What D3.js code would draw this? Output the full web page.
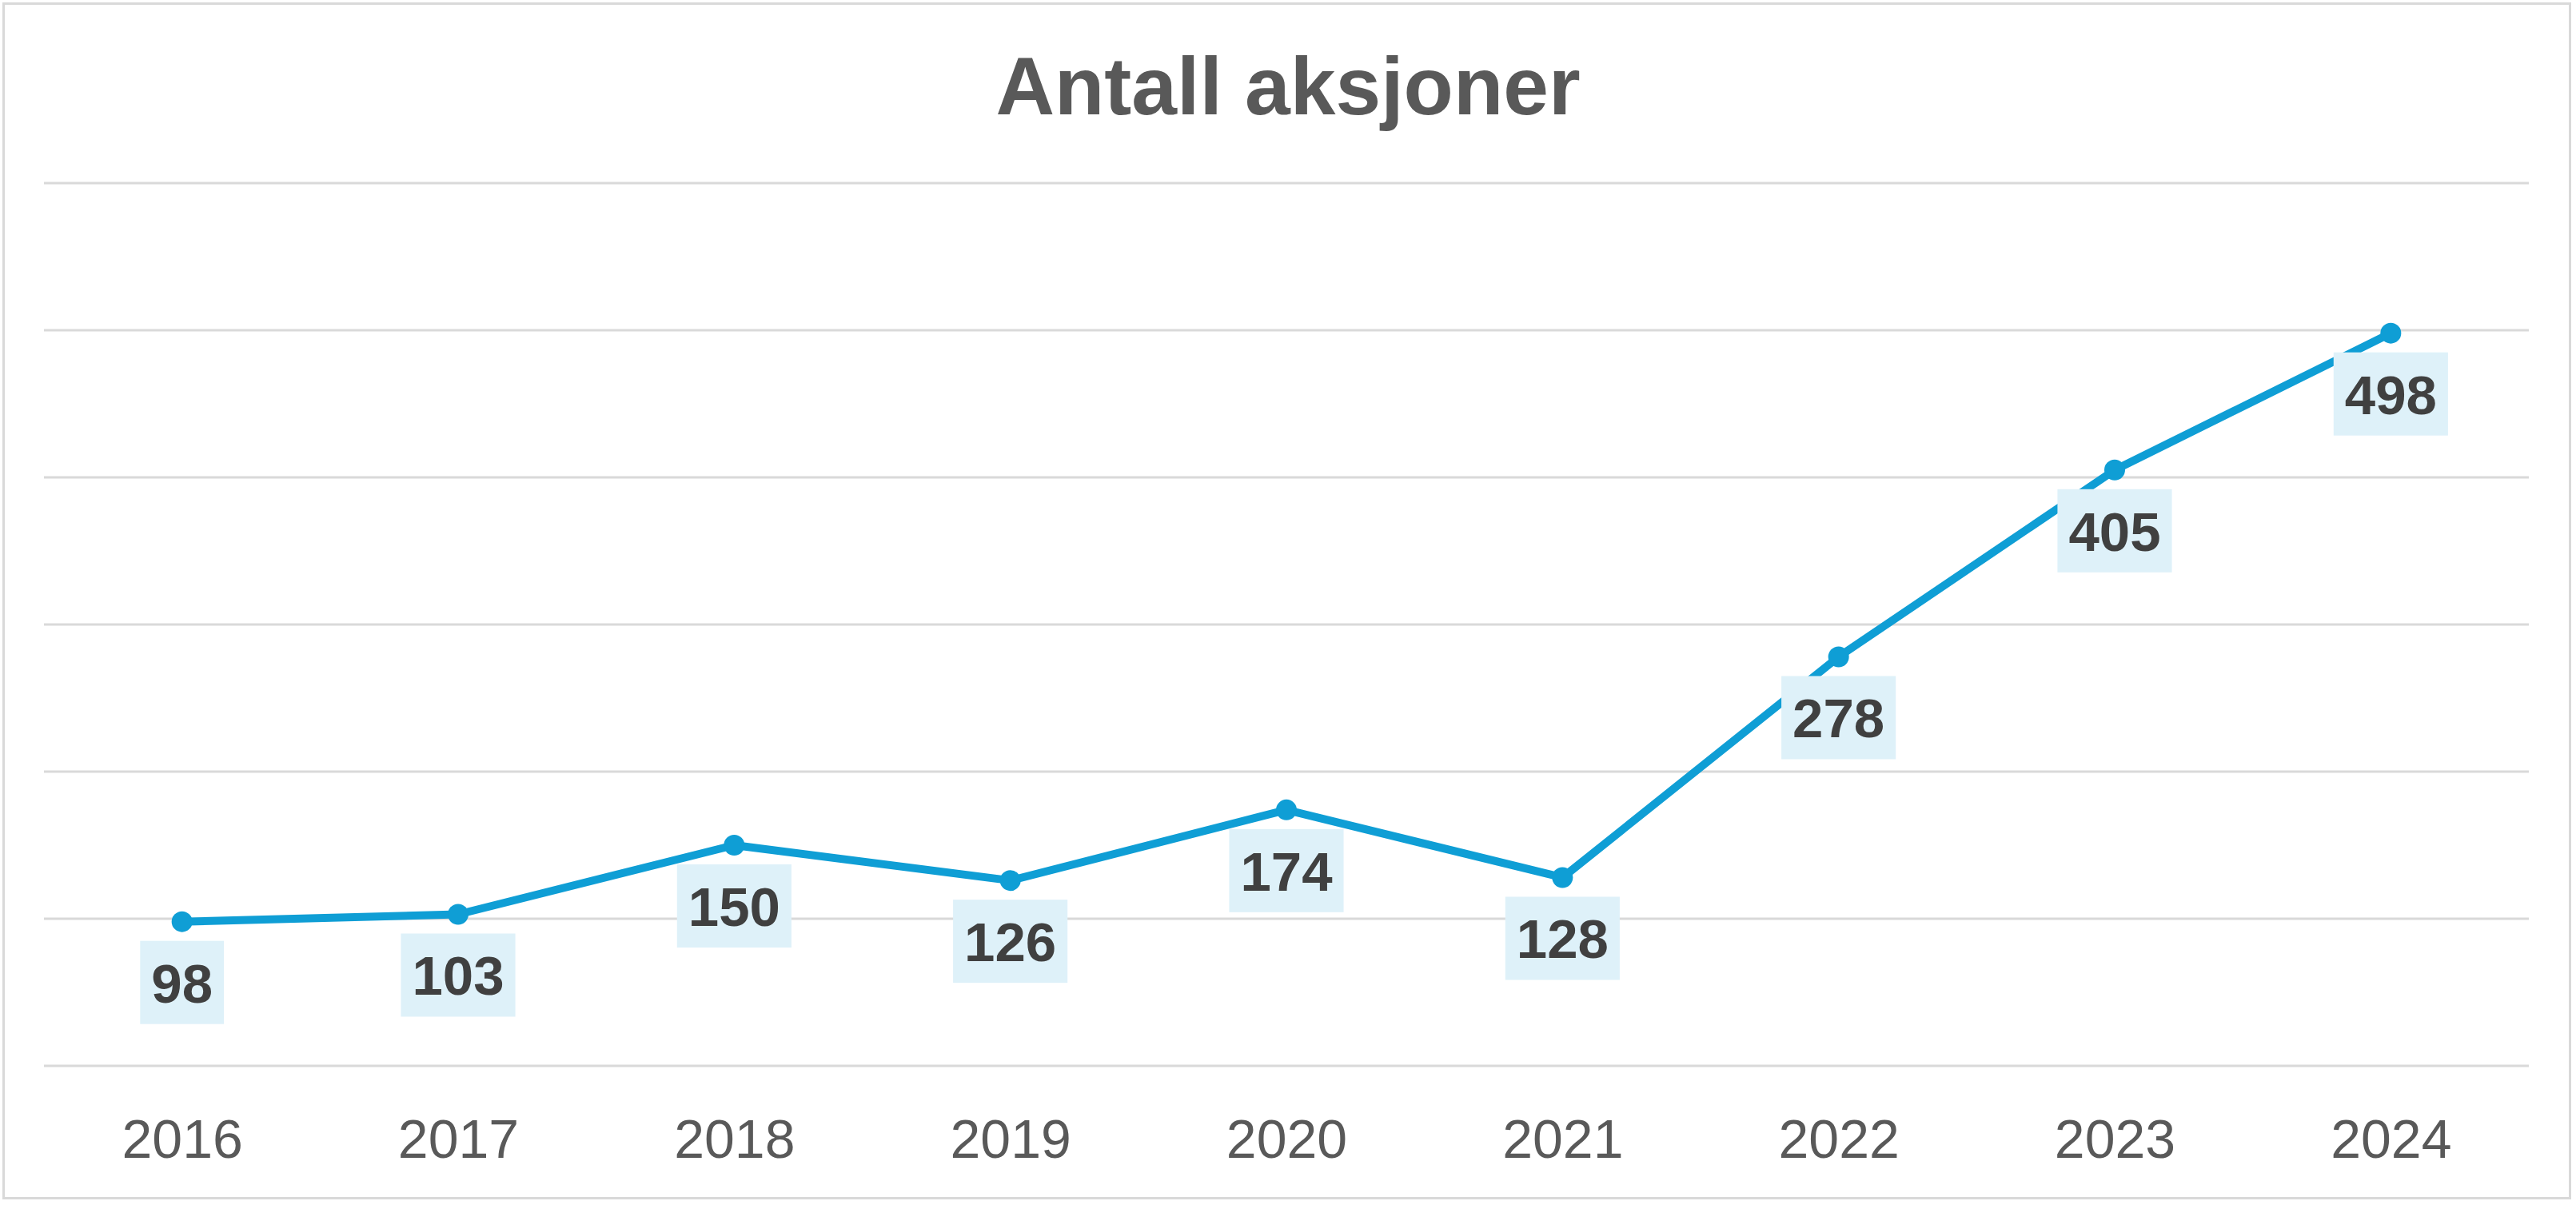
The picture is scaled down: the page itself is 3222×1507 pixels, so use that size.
<!DOCTYPE html>
<html>
<head>
<meta charset="utf-8">
<script src="https://cdn.jsdelivr.net/npm/d3@7"></script>
<style>
  html, body { margin: 0; padding: 0; background: #ffffff; }
  svg { display: block; }
</style>
</head>
<body>
<svg id="chart" width="3222" height="1507"></svg>
<script>
const title = "Antall aksjoner";
const years = ["2016", "2017", "2018", "2019", "2020", "2021", "2022", "2023", "2024"];
const values = [98, 103, 150, 126, 174, 128, 278, 405, 498];
const gridTicks = [0, 100, 200, 300, 400, 500, 600];

const W = 3222, H = 1507;
const plot = { left: 55, right: 3163, top: 229, bottom: 1333 };

const svg = d3.select("#chart");

// chart border
svg.append("rect")
  .attr("x", 4.5).attr("y", 4.5)
  .attr("width", 3210).attr("height", 1494)
  .attr("fill", "#ffffff")
  .attr("stroke", "#D9D9D9")
  .attr("stroke-width", 3);

const x = d3.scalePoint().domain(years).range([plot.left, plot.right]).padding(0.5);
const y = d3.scaleLinear().domain([0, 600]).range([plot.bottom, plot.top]);

// gridlines
svg.append("g")
  .selectAll("line")
  .data(gridTicks)
  .join("line")
  .attr("x1", plot.left).attr("x2", plot.right)
  .attr("y1", d => y(d)).attr("y2", d => y(d))
  .attr("stroke", "#D9D9D9")
  .attr("stroke-width", 3);

// x axis labels
const xAxis = d3.axisBottom(x).tickSize(0).tickPadding(0);
const gx = svg.append("g")
  .attr("transform", `translate(0, ${plot.bottom})`)
  .call(xAxis);
gx.select(".domain").remove();
gx.selectAll("text")
  .attr("dy", null)
  .attr("y", 115)
  .attr("font-family", "'Liberation Sans', Arial, sans-serif")
  .attr("font-size", 68)
  .attr("fill", "#595959");

// line
const line = d3.line()
  .x((d, i) => x(years[i]))
  .y(d => y(d));

svg.append("path")
  .datum(values)
  .attr("d", line)
  .attr("fill", "none")
  .attr("stroke", "#0F9ED5")
  .attr("stroke-width", 10)
  .attr("stroke-linejoin", "round");

// markers
svg.append("g")
  .selectAll("circle")
  .data(values)
  .join("circle")
  .attr("cx", (d, i) => x(years[i]))
  .attr("cy", d => y(d))
  .attr("r", 13)
  .attr("fill", "#0F9ED5");

// data labels
const labelFont = 69;
const labels = svg.append("g")
  .selectAll("g")
  .data(values)
  .join("g")
  .attr("transform", (d, i) => `translate(${x(years[i])}, ${y(d) + 76})`);

labels.each(function(d) {
  const g = d3.select(this);
  const t = g.append("text")
    .attr("text-anchor", "middle")
    .attr("y", 25)
    .attr("font-family", "'Liberation Sans', Arial, sans-serif")
    .attr("font-weight", "bold")
    .attr("font-size", labelFont)
    .attr("fill", "#404040")
    .text(d);
  const w = t.node().getComputedTextLength() + 28;
  g.insert("rect", "text")
    .attr("x", -w / 2)
    .attr("y", -52)
    .attr("width", w)
    .attr("height", 104)
    .attr("fill", "#DEF1F9");
});

// title
svg.append("text")
  .attr("x", W / 2)
  .attr("y", 143)
  .attr("text-anchor", "middle")
  .attr("font-family", "'Liberation Sans', Arial, sans-serif")
  .attr("font-weight", "bold")
  .attr("font-size", 102)
  .attr("fill", "#595959")
  .text(title);
</script>
</body>
</html>
